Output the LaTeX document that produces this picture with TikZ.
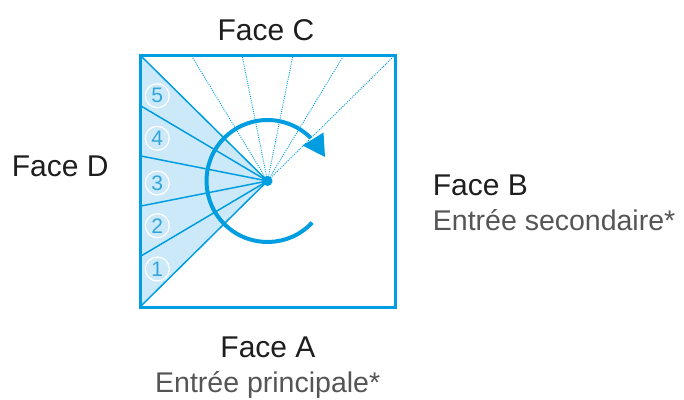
\documentclass[tikz,border=0pt]{standalone}
\usepackage{fontspec}
\setmainfont{Liberation Sans}
\usepackage{tikz}
\usetikzlibrary{arrows.meta,calc}
\definecolor{C1}{RGB}{0,158,224}
\definecolor{C1l}{RGB}{204,233,249}
\definecolor{Cn}{RGB}{50,165,220}
\definecolor{Ct}{RGB}{30,30,30}
\definecolor{Cg}{RGB}{85,85,85}

\begin{document}
\begin{tikzpicture}[x=1pt,y=1pt,
    face/.style={text=Ct,font=\fontsize{30}{36}\selectfont,inner sep=0pt},
    sub/.style={text=Cg,font=\fontsize{28.5}{34}\selectfont,inner sep=0pt},
    num/.style={circle,draw=white,line width=1.2pt,minimum size=24pt,
      inner sep=0pt,text=Cn,font=\fontsize{21}{22}\selectfont}]
    \useasboundingbox (0,0) rectangle (684,-399);
    % square corners and centre
    \coordinate (tl) at (140,-55);
    \coordinate (tr) at (395,-55);
    \coordinate (br) at (395,-307);
    \coordinate (bl) at (140,-307);
    \coordinate (c) at (267.5,-181);
    \fill[C1l] (tl) -- (c) -- (bl) -- cycle;
    \foreach \i in {0,...,5}
      \draw[C1,line width=1.5pt] (c) -- ($(tl)!\i/5!(bl)$);
    \foreach \i in {1,...,5}
      \draw[C1,line width=0.9pt,dash pattern=on 1pt off 1.2pt]
        (c) -- ($(tl)!\i/5!(tr)$);
    \foreach \n/\y in {1/269,2/225.7,3/183,4/138.3,5/95.7}
      \node[num] (n\n) at (157.3,-\y) {\n};
    % rotation arrow
    \draw[C1,line width=4pt]
      ($(c)+(-43:61)$) arc[start angle=-43,end angle=-315,radius=61];
    \fill[C1] (302.5,-145.5) -- (325,-157) -- (323.5,-132.5) -- cycle;
    \fill[C1] (c) circle (5);
    \draw[C1,line width=3pt] (tl) rectangle (br);
    % labels
    \node[face,anchor=base] (fc) at (266,-40) {Face C};
    \node[face,anchor=base west] (fd) at (11.7,-176) {Face D};
    \node[face,anchor=base west] (fb) at (432.7,-195.7) {Face B};
    \node[sub,anchor=base west] (eb) at (432.7,-230) {Entrée secondaire*};
    \node[face,anchor=base] (fa) at (268,-357) {Face A};
    \node[sub,anchor=base] (ea) at (267.7,-392) {Entrée principale*};
\end{tikzpicture}
\end{document}
